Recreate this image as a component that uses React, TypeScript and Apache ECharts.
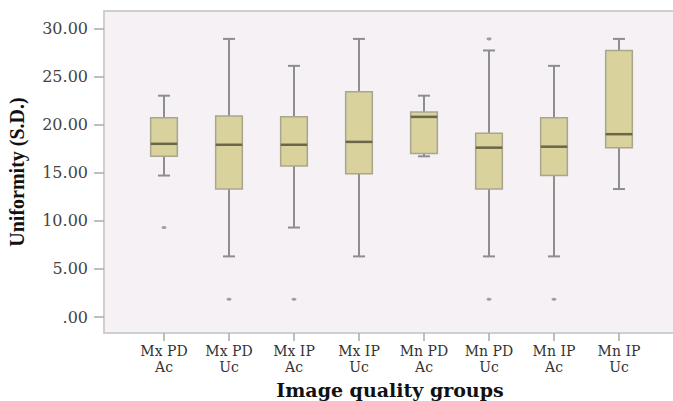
import React, { useEffect, useRef } from "react";
import * as echarts from "echarts";

const categories = ["Mx PD\nAc", "Mx PD\nUc", "Mx IP\nAc", "Mx IP\nUc", "Mn PD\nAc", "Mn PD\nUc", "Mn IP\nAc", "Mn IP\nUc"];
// [min whisker, Q1, median, Q3, max whisker]
const boxStats: number[][] = [
  [14.7, 16.7, 18.0, 20.7, 23.0],
  [6.3, 13.3, 17.9, 20.9, 28.9],
  [9.3, 15.7, 17.9, 20.8, 26.1],
  [6.3, 14.9, 18.2, 23.4, 28.9],
  [16.7, 17.0, 20.8, 21.3, 23.0],
  [6.3, 13.3, 17.6, 19.1, 27.7],
  [6.3, 14.7, 17.7, 20.7, 26.1],
  [13.3, 17.6, 19.0, 27.7, 28.9],
];
// [category index, value]
const outliers: number[][] = [
  [0, 9.3],
  [1, 1.85],
  [2, 1.85],
  [5, 28.9],
  [5, 1.85],
  [6, 1.85],
];
const yTicks = [0, 5, 10, 15, 20, 25, 30];

export default function App() {
  const ref = useRef<HTMLDivElement>(null);
  useEffect(() => {
    if (!ref.current) return;
    const chart = echarts.init(ref.current, null, { renderer: "svg" });
    const boxData = boxStats.map((s, i) => [i, ...s]);
    chart.setOption({
      animation: false,
      backgroundColor: "#ffffff",
      grid: {
        left: 104,
        top: 11,
        right: -3,
        bottom: 68,
        outerBoundsMode: "none",
        containLabel: false,
        show: true,
        backgroundColor: "#F5F1F5",
        borderColor: "#CFCFCF",
        borderWidth: 2,
      },
      xAxis: {
        type: "value",
        min: -0.923,
        max: 7.877,
        name: "Image quality groups",
        nameLocation: "middle",
        nameGap: 41,
        nameTextStyle: { fontFamily: "DejaVu Serif", fontWeight: "bold", fontSize: 19, lineHeight: 20, color: "#111" },
        axisLine: { show: false, onZero: false },
        splitLine: { show: false },
        axisTick: { show: true, customValues: categories.map((_, i) => i), length: 8, lineStyle: { color: "#AAAAAA", width: 1.5 } },
        axisLabel: {
          customValues: categories.map((_, i) => i),
          formatter: (v: number) => categories[Math.round(v)] ?? "",
          fontFamily: "DejaVu Serif",
          fontSize: 14,
          lineHeight: 16,
          color: "#333",
          margin: 10,
        },
      },
      yAxis: {
        type: "value",
        min: -1.66,
        max: 31.8,
        name: "Uniformity (S.D.)",
        nameLocation: "middle",
        nameGap: 77,
        nameTextStyle: { fontFamily: "Liberation Serif", fontWeight: "bold", fontSize: 20, color: "#111" },
        axisLine: { show: false, onZero: false },
        splitLine: { show: false },
        axisTick: { show: true, customValues: yTicks, length: 10, lineStyle: { color: "#AAAAAA", width: 1.5 } },
        axisLabel: {
          customValues: yTicks,
          formatter: (v: number) => (v === 0 ? ".00" : v.toFixed(2)),
          fontFamily: "DejaVu Serif",
          fontSize: 16,
          color: "#444",
          margin: 16,
        },
      },
      series: [
        {
          type: "custom",
          data: boxData,
          renderItem: (params: any, api: any) => {
            const x = api.value(0);
            const pMin = api.coord([x, api.value(1)]);
            const pQ1 = api.coord([x, api.value(2)]);
            const pMed = api.coord([x, api.value(3)]);
            const pQ3 = api.coord([x, api.value(4)]);
            const pMax = api.coord([x, api.value(5)]);
            const bw = api.size([1, 0])[0] * 0.41;
            const cw = bw * 0.45;
            const cx = pMed[0];
            const ws = { stroke: "#8E8E8E", lineWidth: 2 };
            return {
              type: "group",
              children: [
                { type: "line", shape: { x1: cx, y1: pMax[1], x2: cx, y2: pQ3[1] }, style: ws },
                { type: "line", shape: { x1: cx, y1: pQ1[1], x2: cx, y2: pMin[1] }, style: ws },
                { type: "line", shape: { x1: cx - cw / 2, y1: pMax[1], x2: cx + cw / 2, y2: pMax[1] }, style: ws },
                { type: "line", shape: { x1: cx - cw / 2, y1: pMin[1], x2: cx + cw / 2, y2: pMin[1] }, style: ws },
                {
                  type: "rect",
                  shape: { x: cx - bw / 2, y: pQ3[1], width: bw, height: pQ1[1] - pQ3[1] },
                  style: { fill: "#D9D29D", stroke: "#A9A68E", lineWidth: 1.5 },
                },
                {
                  type: "line",
                  shape: { x1: cx - bw / 2, y1: pMed[1], x2: cx + bw / 2, y2: pMed[1] },
                  style: { stroke: "#6A6648", lineWidth: 2.5 },
                },
              ],
            };
          },
        },
        {
          type: "scatter",
          data: outliers,
          symbol: "circle",
          symbolSize: [5, 3],
          itemStyle: { color: "#8A8A8A" },
        },
      ],
    });
    return () => chart.dispose();
  }, []);
  return (
    <div
      ref={ref}
      style={{ position: "fixed", left: 0, top: 0, width: 673, height: 401 }}
    />
  );
}
